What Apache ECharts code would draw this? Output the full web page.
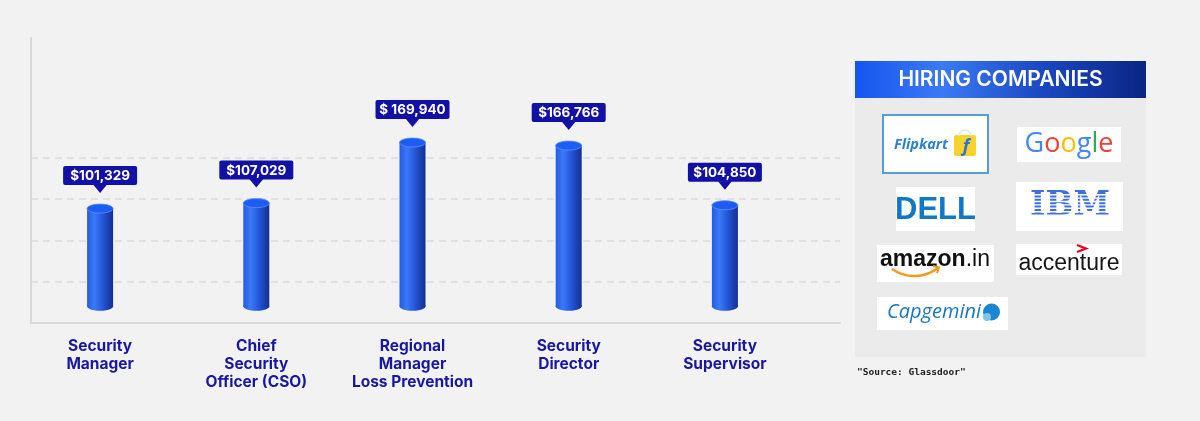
<!DOCTYPE html>
<html>
<head>
<meta charset="utf-8">
<script src="https://cdn.jsdelivr.net/npm/echarts@6/dist/echarts.min.js"></script>
<style>
  html, body { margin: 0; padding: 0; background: #f2f2f2; }
  #chart { width: 1200px; height: 421px; }
</style>
</head>
<body>
<div id="chart"></div>
<script>
// ---- data ----
const categories = [
  'Security\nManager',
  'Chief\nSecurity\nOfficer (CSO)',
  'Regional\nManager\nLoss Prevention',
  'Security\nDirector',
  'Security\nSupervisor'
];
const salaries = [101329, 107029, 169940, 166766, 104850];
const salaryLabels = ['$101,329', '$107,029', '$ 169,940', '$166,766', '$104,850'];
const panelTitle = 'HIRING COMPANIES';
const sourceNote = '"Source: Glassdoor"';

// ---- chart ----
const chart = echarts.init(document.getElementById('chart'), null, { renderer: 'canvas' });
const LG = echarts.graphic.LinearGradient;

const bodyGrad = new LG(0, 0, 1, 0, [
  { offset: 0, color: '#245be6' },
  { offset: 0.28, color: '#3b79f7' },
  { offset: 0.6, color: '#2456d8' },
  { offset: 1, color: '#14308f' }
]);

function renderCylinder(params, api) {
  const idx = api.value(0);
  const v = api.value(1);
  const top = api.coord([idx, v]);
  const base = api.coord([idx, 0]);
  const cx = top[0];
  const bw = 26, ry = 4.5;
  const tipY = top[1] - ry - 11;
  const boxH = 19, boxW = 74, triH = 8;
  const boxTop = tipY - triH - boxH;
  return {
    type: 'group',
    children: [
      { type: 'rect', shape: { x: cx - bw / 2, y: top[1], width: bw, height: base[1] - top[1] }, style: { fill: bodyGrad } },
      { type: 'ellipse', shape: { cx: cx, cy: base[1], rx: bw / 2, ry: ry }, style: { fill: bodyGrad } },
      { type: 'ellipse', shape: { cx: cx, cy: top[1], rx: bw / 2, ry: ry }, style: { fill: '#1e5df5', stroke: '#5d90f6', lineWidth: 0.8 } },
      { type: 'rect', shape: { x: cx - boxW / 2, y: boxTop, width: boxW, height: boxH, r: 2 }, style: { fill: '#1111a6' } },
      { type: 'polygon', shape: { points: [[cx - 7, boxTop + boxH - 0.5], [cx + 7, boxTop + boxH - 0.5], [cx, tipY]] }, style: { fill: '#1111a6' } },
      { type: 'text', style: { text: salaryLabels[params.dataIndex], x: cx, y: boxTop + boxH / 2 + 0.5, align: 'center', verticalAlign: 'middle', fill: '#ffffff', font: 'bold 13.5px Inter, "Noto Sans", sans-serif' } }
    ]
  };
}

// IBM stripes
const ibmStripes = [];
for (let k = 0; k < 8; k++) {
  ibmStripes.push({ type: 'rect', shape: { x: 1030, y: 194 + k * 3.4, width: 80, height: 1.4 }, style: { fill: '#ffffff' }, z: 12 });
}

const option = {
  backgroundColor: '#f2f2f2',
  animation: false,
  grid: [
    { left: 31, top: 38, width: 809, height: 285 },
    { left: 22, top: 38, width: 781, height: 285 }
  ],
  xAxis: [
    { gridIndex: 0, type: 'value', min: 0, max: 1, axisLine: { show: true, lineStyle: { color: '#d9d9d9', width: 2 } }, axisTick: { show: false }, axisLabel: { show: false }, splitLine: { show: false } },
    {
      gridIndex: 1, type: 'category', data: categories,
      axisLine: { show: false }, axisTick: { show: false },
      axisLabel: { interval: 0, margin: 14, color: '#17179f', fontFamily: 'Inter, "Noto Sans", sans-serif', fontWeight: 'bold', fontSize: 15.5, lineHeight: 18, align: 'center' }
    }
  ],
  yAxis: [
    {
      gridIndex: 0, type: 'value', min: 0, max: 6.909, interval: 1,
      axisLine: { show: true, lineStyle: { color: '#d9d9d9', width: 2 } }, axisTick: { show: false }, axisLabel: { show: false },
      splitLine: { show: true, lineStyle: { type: [7, 5], width: 1.5, color: ['rgba(0,0,0,0)', '#dcdcdc', '#dcdcdc', '#dcdcdc', '#dcdcdc', 'rgba(0,0,0,0)', 'rgba(0,0,0,0)', 'rgba(0,0,0,0)', 'rgba(0,0,0,0)'] } }
    },
    { gridIndex: 1, type: 'value', min: -17500, max: 278500, show: false }
  ],
  series: [{
    type: 'custom',
    xAxisIndex: 1, yAxisIndex: 1,
    data: salaries.map((v, i) => [i, v]),
    encode: { x: 0, y: 1 },
    renderItem: renderCylinder,
    z: 5
  }],
  graphic: [
    // panel
    { type: 'rect', shape: { x: 855, y: 61, width: 291, height: 296 }, style: { fill: '#ebebeb' }, z: 1 },
    { type: 'rect', shape: { x: 855, y: 61, width: 291, height: 37 }, style: { fill: new LG(0, 0, 1, 0, [{ offset: 0, color: '#1655ee' }, { offset: 0.3, color: '#3b7af5' }, { offset: 0.65, color: '#1a47c0' }, { offset: 1, color: '#0a2583' }]) }, z: 2 },
    { type: 'text', style: { text: panelTitle, x: 1000.5, y: 80, align: 'center', verticalAlign: 'middle', fill: '#ffffff', font: '600 21px Inter, "Noto Sans", sans-serif' }, z: 3 },

    // Flipkart
    { type: 'rect', shape: { x: 883, y: 115, width: 105, height: 58 }, style: { fill: '#ffffff', stroke: '#5b9bd5', lineWidth: 2 }, z: 10 },
    { type: 'text', style: { text: 'Flipkart', x: 894, y: 145, verticalAlign: 'middle', fill: '#2a80d2', font: 'italic bold 14.5px "Open Sans", sans-serif' }, z: 11 },
    { type: 'rect', shape: { x: 954, y: 135, width: 22, height: 21, r: 2 }, style: { fill: '#f6d42c' }, z: 11 },
    { type: 'arc', shape: { cx: 965, cy: 136, r: 6, startAngle: Math.PI, endAngle: 0 }, style: { stroke: '#e6e6e6', lineWidth: 1.5, fill: null }, z: 11 },
    { type: 'text', style: { text: 'f', x: 966, y: 147, align: 'center', verticalAlign: 'middle', fill: '#2a74d8', font: 'italic bold 18px "Open Sans", sans-serif' }, z: 12 },

    // Google
    { type: 'rect', shape: { x: 1017, y: 127, width: 104, height: 35 }, style: { fill: '#ffffff' }, z: 10 },
    { type: 'text', style: { text: '{b|G}{r|o}{y|o}{b|g}{g|l}{r|e}', x: 1069, y: 144, align: 'center', verticalAlign: 'middle',
      rich: { b: { fill: '#4285f4', font: '27px "Open Sans", sans-serif' }, r: { fill: '#ea4335', font: '27px "Open Sans", sans-serif' }, y: { fill: '#fbbc05', font: '27px "Open Sans", sans-serif' }, g: { fill: '#34a853', font: '27px "Open Sans", sans-serif' } } }, z: 11 },

    // DELL
    { type: 'rect', shape: { x: 896, y: 187, width: 79, height: 44 }, style: { fill: '#ffffff' }, z: 10 },
    { type: 'text', style: { text: 'DELL', x: 935.5, y: 210, align: 'center', verticalAlign: 'middle', fill: '#1278c6', font: '900 31px "Liberation Sans", Arial, sans-serif' }, z: 11 },

    // IBM
    { type: 'rect', shape: { x: 1016, y: 182, width: 107, height: 49 }, style: { fill: '#ffffff' }, z: 10 },
    { type: 'text', style: { text: 'IBM', x: 1070, y: 206, align: 'center', verticalAlign: 'middle', fill: '#3e6fe0', font: 'bold 33px "DejaVu Serif", serif' }, z: 11 },
  ].concat(ibmStripes).concat([
    // amazon.in
    { type: 'rect', shape: { x: 877, y: 245, width: 117, height: 37 }, style: { fill: '#ffffff' }, z: 10 },
    { type: 'text', style: { text: '{a|amazon}{b|.in}', x: 880, y: 260, verticalAlign: 'middle',
      rich: { a: { fill: '#111111', font: 'bold 23px "Liberation Sans", Arial, sans-serif' }, b: { fill: '#111111', font: '23px "Liberation Sans", Arial, sans-serif' } } }, z: 11 },
    { type: 'bezierCurve', shape: { x1: 892, y1: 269, x2: 938, y2: 268, cpx1: 908, cpy1: 280, cpx2: 926, cpy2: 277 }, style: { stroke: '#f39a1c', lineWidth: 2.5, fill: null }, z: 11 },
    { type: 'polyline', shape: { points: [[933, 266], [939, 267.5], [937, 273]] }, style: { stroke: '#f39a1c', lineWidth: 2, fill: null }, z: 11 },

    // accenture
    { type: 'rect', shape: { x: 1016, y: 244, width: 106, height: 31 }, style: { fill: '#ffffff' }, z: 10 },
    { type: 'text', style: { text: 'accenture', x: 1069, y: 264, align: 'center', verticalAlign: 'middle', fill: '#151515', font: '23px "Liberation Sans", Arial, sans-serif' }, z: 11 },
    { type: 'polyline', shape: { points: [[1077, 245], [1086, 248.5], [1077, 252]] }, style: { stroke: '#e3001b', lineWidth: 2.2, fill: null }, z: 11 },

    // Capgemini
    { type: 'rect', shape: { x: 877, y: 297, width: 131, height: 33 }, style: { fill: '#ffffff' }, z: 10 },
    { type: 'text', style: { text: 'Capgemini', x: 887, y: 312, verticalAlign: 'middle', fill: '#1b76bd', font: 'italic 20px "Open Sans", sans-serif' }, z: 11 },
    { type: 'circle', shape: { cx: 991.5, cy: 312, r: 8.5 }, style: { fill: '#1b86d0' }, z: 11 },
    { type: 'circle', shape: { cx: 987, cy: 317, r: 4 }, style: { fill: '#7cc3ee' }, z: 12 },

    // source
    { type: 'text', style: { text: sourceNote, x: 857, y: 373, verticalAlign: 'middle', fill: '#222222', font: 'bold 9.5px "DejaVu Sans Mono", monospace' }, z: 5 }
  ])
};

chart.setOption(option);
</script>
</body>
</html>
